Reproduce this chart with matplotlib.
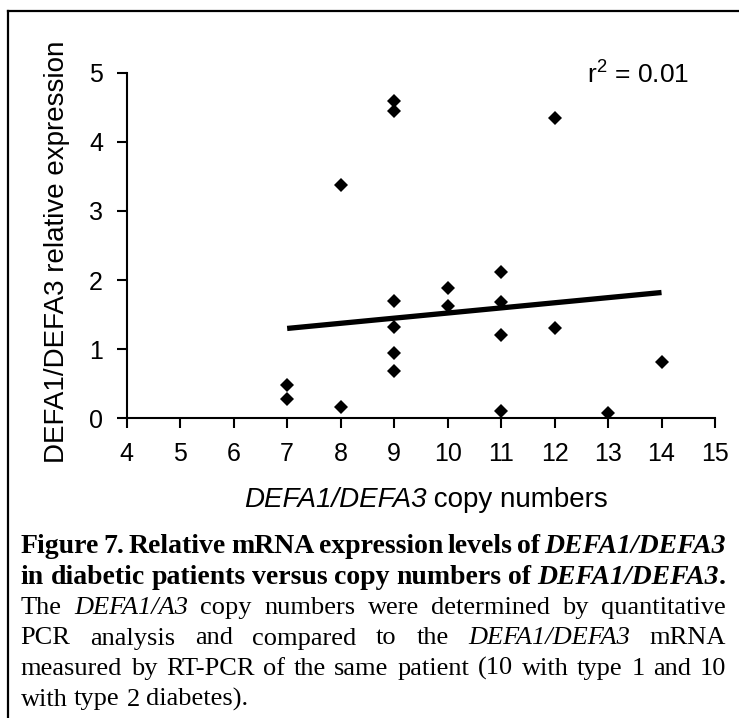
import matplotlib
matplotlib.use('Agg')
import matplotlib.pyplot as plt
from matplotlib.lines import Line2D
from matplotlib.transforms import IdentityTransform

plt.rcParams['font.family'] = ['Liberation Sans', 'DejaVu Sans']
plt.rcParams['mathtext.fontset'] = 'custom'
plt.rcParams['mathtext.rm'] = 'Liberation Sans'
plt.rcParams['mathtext.it'] = 'Liberation Sans:italic'

# ---- data ----
copy_numbers = [7, 7, 8, 8, 9, 9, 9, 9, 9, 9, 10, 10, 11, 11, 11, 11, 12, 12, 13, 14]
expression = [0.48, 0.28, 3.38, 0.16, 4.59, 4.44, 1.70, 1.32, 0.95, 0.68,
              1.88, 1.63, 2.11, 1.68, 1.20, 0.11, 4.35, 1.30, 0.07, 0.81]
fit_x = [7, 14]
fit_y = [1.30, 1.82]
x_ticks = [4, 5, 6, 7, 8, 9, 10, 11, 12, 13, 14, 15]
y_ticks = [0, 1, 2, 3, 4, 5]
r2_label = 'r$^2$ = 0.01'
x_label_runs = [("DEFA1/DEFA3", 'italic'), (" copy numbers", 'normal')]
y_label = 'DEFA1/DEFA3 relative expression'
caption = [
    [("Figure 7. Relative mRNA expression levels of ", 'b'), ("DEFA1/DEFA3", 'bi')],
    [("in diabetic patients versus copy numbers of ", 'b'), ("DEFA1/DEFA3", 'bi'), (".", 'b')],
    [("The ", 'n'), ("DEFA1/A3", 'i'), (" copy numbers were determined by quantitative", 'n')],
    [("PCR analysis and compared to the ", 'n'), ("DEFA1/DEFA3", 'i'), (" mRNA", 'n')],
    [("measured by RT-PCR of the same patient (10 with type 1 and 10", 'n')],
    [("with type 2 diabetes).", 'n')],
]

W, H = 739, 718
fig = plt.figure(figsize=(W / 100, H / 100), dpi=100)
renderer = fig.canvas.get_renderer()

# axes placement (pixels)
ax_l, ax_r, ax_t, ax_b = 126.7, 715.0, 72.7, 418.3
ax = fig.add_axes([ax_l / W, 1 - ax_b / H, (ax_r - ax_l) / W, (ax_b - ax_t) / H])

ax.plot(fit_x, fit_y, color='black', lw=3.8, solid_capstyle='butt', zorder=2)
ax.plot(copy_numbers, expression, 'D', color='black', ms=7.5, mew=0,
        clip_on=False, zorder=3)

ax.set_xlim(4, 15)
ax.set_ylim(0, 5)
ax.set_xticks(x_ticks)
ax.set_yticks(y_ticks)
for s in ['top', 'right']:
    ax.spines[s].set_visible(False)
for s in ['left', 'bottom']:
    ax.spines[s].set_linewidth(1.5)
ax.tick_params(direction='out', length=7, width=1.5, labelsize=18, pad=10)

ax.text(12.6, 4.97, r2_label, fontsize=19, ha='left', va='center')

# x label built from italic + upright runs, centred
xl_objs = [fig.text(0, 0, t, fontsize=20, style=st, ha='left', va='baseline',
                    transform=IdentityTransform()) for t, st in x_label_runs]
xl_ws = [o.get_window_extent(renderer).width for o in xl_objs]
xx = 426 - sum(xl_ws) / 2
for o, w_ in zip(xl_objs, xl_ws):
    o.set_position((xx, H - 507))
    xx += w_

fig.text(57, H - 252, y_label, fontsize=20, ha='center', va='center',
         rotation=90, transform=IdentityTransform())

# frame lines (top and left)
fig.add_artist(Line2D([7.5 / W, 1], [1 - 11 / H, 1 - 11 / H],
                      transform=fig.transFigure, color='black', lw=1.6))
fig.add_artist(Line2D([7.5 / W, 7.5 / W], [0, 1 - 11 / H],
                      transform=fig.transFigure, color='black', lw=1.6))

# ---- justified caption ----
cap_left, cap_right = 20.7, 726.0
baselines = [553, 583.5, 614, 644.5, 675, 705.5]
styles = {
    'b': dict(weight='bold', style='normal', fontsize=20),
    'bi': dict(weight='bold', style='italic', fontsize=20),
    'n': dict(weight='normal', style='normal', fontsize=19),
    'i': dict(weight='normal', style='italic', fontsize=19),
}


def make_text(s, st):
    return fig.text(0, 0, s, family='Liberation Serif',
                    transform=IdentityTransform(), va='baseline', ha='left',
                    **styles[st])


def width_of(t):
    return t.get_window_extent(renderer).width


tmp1 = make_text('n n', 'n')
tmp2 = make_text('nn', 'n')
space_w = width_of(tmp1) - width_of(tmp2)
tmp1.remove()
tmp2.remove()

for li, runs in enumerate(caption):
    words = []
    cur = []
    for txt, st in runs:
        parts = txt.split(' ')
        for pi, p in enumerate(parts):
            if pi > 0:
                if cur:
                    words.append(cur)
                cur = []
            if p:
                cur.append((p, st))
    if cur:
        words.append(cur)
    word_objs = []
    word_ws = []
    for w in words:
        objs = [make_text(p, st) for p, st in w]
        ws = [width_of(o) for o in objs]
        word_objs.append((objs, ws))
        word_ws.append(sum(ws))
    last = li == len(caption) - 1
    if last or len(words) < 2:
        gap = space_w
    else:
        gap = (cap_right - cap_left - sum(word_ws)) / (len(words) - 1)
    x = cap_left
    y = H - baselines[li]
    for (objs, ws), ww in zip(word_objs, word_ws):
        xx = x
        for o, w_ in zip(objs, ws):
            o.set_position((xx, y))
            xx += w_
        x += ww + gap

fig.savefig('out.png', dpi=100)
